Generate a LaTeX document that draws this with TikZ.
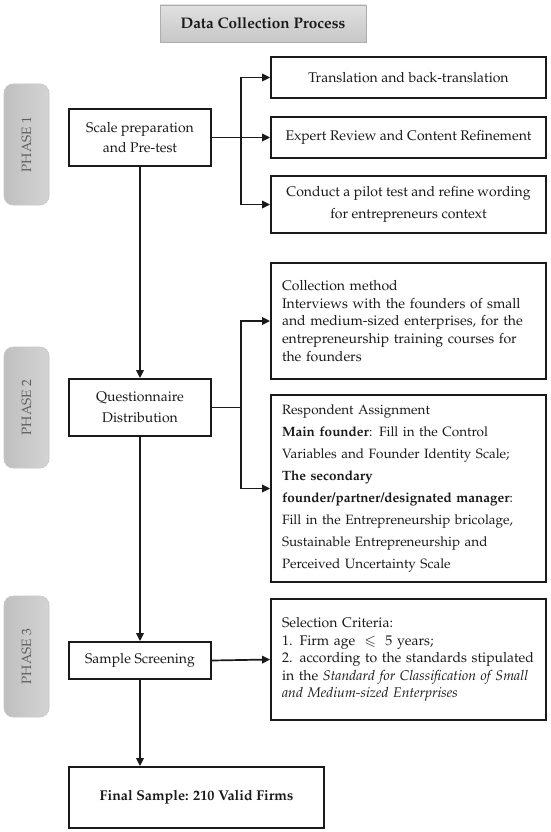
\documentclass[tikz,border=0pt]{standalone}
\usepackage[T1]{fontenc}
\usepackage{mathpazo}
\usepackage{amssymb}
\usetikzlibrary{arrows.meta}
\definecolor{ink}{HTML}{1A1A1A}
\definecolor{phasetxt}{HTML}{5E5E5E}
\begin{document}
\begin{tikzpicture}[x=1pt,y=-1pt,
  box/.style={draw=ink, line width=1.8pt, fill=white, inner sep=0pt, text=ink,
    font=\fontsize{14}{17.6}\selectfont, align=center},
  lbox/.style={box, align=left, text width=253pt},
  phase/.style={draw=black!22, line width=0.6pt, rounded corners=9pt, rotate=90,
    left color=black!25, right color=black!17, text=phasetxt,
    minimum width=121pt, minimum height=45pt, inner sep=0pt,
    font=\fontsize{13.5}{15}\selectfont},
  arr/.style={draw=ink, line width=1.7pt, -{Triangle[length=8pt,width=7.5pt]}},
  con/.style={draw=ink, line width=1.7pt}
]
\useasboundingbox (0,0) rectangle (550,832);
% title
\node[draw=black!32, line width=0.7pt, top color=black!12, bottom color=black!22,
  minimum width=206pt, minimum height=37pt, inner sep=0pt, text=ink,
  font=\bfseries\fontsize{15.3}{17}\selectfont] (title) at (263,23.5) {Data Collection Process};
% phases
\node[phase] (p1) at (26.5,144.5) {PHASE 1};
\node[phase] (p2) at (26.5,407.5) {PHASE 2};
\node[phase] (p3) at (26.5,656.5) {PHASE 3};
% main column
\node[box, minimum width=142pt, minimum height=57pt, font=\fontsize{14}{20.7}\selectfont] (s1) at (140,137.5) {Scale preparation\\and Pre-test};
\node[box, minimum width=142pt, minimum height=57pt, font=\fontsize{14}{20.7}\selectfont] (q) at (140,407.5) {Questionnaire\\Distribution};
\node[box, minimum width=142pt, minimum height=37pt] (ss) at (140,660.5) {Sample Screening};
\node[box, minimum width=255pt, minimum height=61pt, font=\bfseries\fontsize{14.2}{16}\selectfont] (fin) at (196.5,797.5) {\raisebox{3pt}{Final Sample: 210 Valid Firms}};
% phase 1 right
\node[box, minimum width=275pt, minimum height=41pt] (t1) at (408.5,77.5) {Translation and back-translation};
\node[box, minimum width=275pt, minimum height=41pt] (t2) at (408.5,137.5) {Expert Review and Content Refinement};
\node[box, minimum width=275pt, minimum height=57pt, font=\fontsize{14}{22}\selectfont] (t3) at (408.5,204.5) {Conduct a pilot test and refine wording\\for entrepreneurs context};
% phase 2 right
\node[lbox, minimum width=275pt, minimum height=116pt] (c1) at (408.5,321) {Collection method\\
Interviews with the founders of small\\
and medium-sized enterprises, for the\\
entrepreneurship training courses for\\
the founders};
\node[lbox, minimum width=275pt, minimum height=187pt, font=\fontsize{13.5}{22}\selectfont] (c2) at (408.5,488.5) {Respondent Assignment\\
\textbf{Main founder}: Fill in the Control\\
Variables and Founder Identity Scale;\\
\textbf{The secondary}\\
\textbf{founder/partner/designated manager}:\\
Fill in the Entrepreneurship bricolage,\\
Sustainable Entrepreneurship and\\
Perceived Uncertainty Scale};
% phase 3 right
\node[lbox, minimum width=275pt, minimum height=121pt] (sel) at (408.5,659.5) {Selection Criteria:\\
1. Firm age \ $\leqslant$ \ 5 years;\\
2. according to the standards stipulated\\
in the \textit{Standard for Classification of Small}\\
\textit{and Medium-sized Enterprises}};
% junctions
\coordinate (j1) at (241,137.5);
\coordinate (j2) at (241,407.5);
% connectors
\draw[arr] (s1.east) -- (t2.west);
\draw[arr] (j1) |- (t1.west);
\draw[arr] (j1) |- (t3.west);
\draw[con] (q.east) -- (j2);
\draw[arr] (j2) |- (c1.west);
\draw[arr] (j2) |- (c2.west);
\draw[arr] (ss.east) -- (sel.west);
\draw[arr] (s1.south) -- (q.north);
\draw[arr] (q.south) -- (ss.north);
\draw[arr] (ss.south) -- (ss.south |- fin.north);
\end{tikzpicture}
\end{document}
